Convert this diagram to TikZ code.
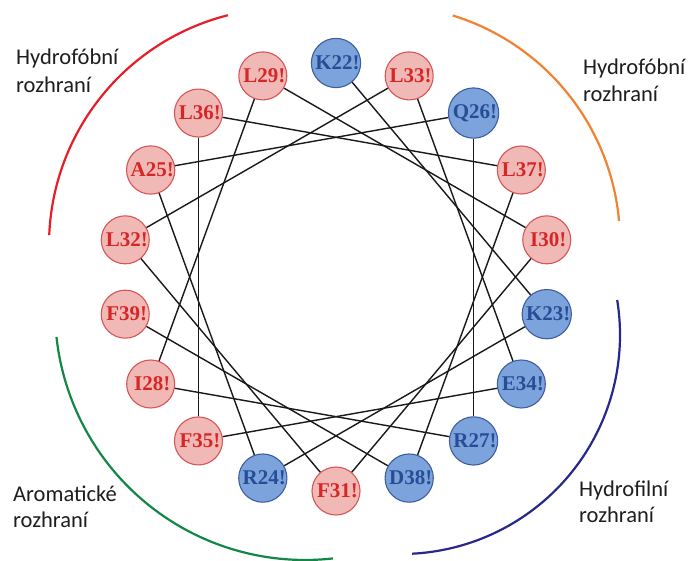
\documentclass[tikz,border=0pt]{standalone}
\usepackage{fontspec}
\setmainfont{Liberation Serif}
\newfontfamily\labfont{Carlito}
\usetikzlibrary{calc}
\definecolor{pinkfill}{RGB}{240,185,182}
\definecolor{pinkdraw}{RGB}{215,85,85}
\definecolor{pinktext}{RGB}{214,38,38}
\definecolor{bluefill}{RGB}{125,163,220}
\definecolor{bluedraw}{RGB}{62,94,160}
\definecolor{bluetext}{RGB}{38,78,150}
\definecolor{arcred}{RGB}{230,30,40}
\definecolor{arcorange}{RGB}{240,130,50}
\definecolor{arcgreen}{RGB}{20,135,70}
\definecolor{arcnavy}{RGB}{40,40,140}
\definecolor{labgray}{RGB}{30,30,30}
\begin{document}
\begin{tikzpicture}[x=1pt,y=-1pt,
  res/.style={circle, minimum size=48pt, inner sep=0pt, line width=1.1pt,
    font=\bfseries\fontsize{21}{21}\selectfont},
  resr/.style={res, fill=pinkfill, draw=pinkdraw, text=pinktext},
  resb/.style={res, fill=bluefill, draw=bluedraw, text=bluetext},
  conn/.style={draw=black!90, line width=1.4pt},
  lab/.style={anchor=base west, inner sep=0pt, text=labgray,
    font=\labfont\fontsize{22.5}{27}\selectfont},
  zone/.style={line width=2.2pt}]
\useasboundingbox (0,0) rectangle (697,561);
\fill[white] (0,0) rectangle (697,561);
\coordinate (c) at (336,277);
% residues on the helical wheel
\foreach \n/\lab/\t in {22/K22!/b, 23/K23!/b, 24/R24!/b, 25/A25!/r, 26/Q26!/b,
  27/R27!/b, 28/I28!/r, 29/L29!/r, 30/I30!/r, 31/F31!/r, 32/L32!/r, 33/L33!/r,
  34/E34!/b, 35/F35!/r, 36/L36!/r, 37/L37!/r, 38/D38!/b, 39/F39!/r}
  \node[res\t] (r\n) at ($(c)+({100*(\n-22)-90}:214)$) {\hspace{3pt}\lab};
% sequence connectors
\foreach \n in {22,...,38} {
  \pgfmathtruncatemacro\m{\n+1}
  \draw[conn] (r\n) -- (r\m);
}
% zone arcs
\coordinate (cr) at (286,245);
\coordinate (co) at (383,242);
\coordinate (cg) at (305,310);
\coordinate (cb) at (401,335);
\draw[zone, arcred] ($(cr)+(-104.2:237)$) arc[start angle=-104.2, end angle=-177.6, radius=237];
\draw[zone, arcorange] ($(co)+(-72.9:237)$) arc[start angle=-72.9, end angle=-5.1, radius=237];
\draw[zone, arcgreen] ($(cg)+(173.8:250)$) arc[start angle=173.8, end angle=83.6, radius=250];
\draw[zone, arcnavy] ($(cb)+(-9.2:219)$) arc[start angle=-9.2, end angle=87.1, radius=219];
% labels
\node[lab] (t1a) at (16,65) {Hydrofóbní};
\node[lab] (t1b) at (16,92.5) {rozhraní};
\node[lab] (t2a) at (583,75) {Hydrofóbní};
\node[lab] (t2b) at (583,102) {rozhraní};
\node[lab] (t3a) at (13,502) {Aromatické};
\node[lab] (t3b) at (13,528) {rozhraní};
\node[lab] (t4a) at (579,497) {Hydrofilní};
\node[lab] (t4b) at (579,523) {rozhraní};
\end{tikzpicture}
\end{document}
